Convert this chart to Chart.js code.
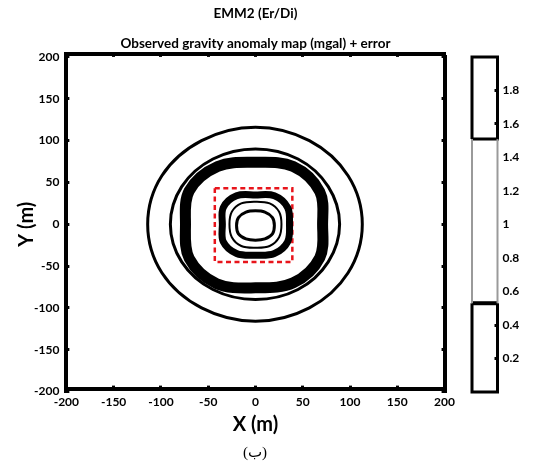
<!DOCTYPE html>
<html>
<head>
<meta charset="utf-8">
<title>EMM2 (Er/Di)</title>
<script src="https://cdn.jsdelivr.net/npm/chart.js@4.4.1/dist/chart.umd.min.js"></script>
<style>
  body { margin: 0; background: #fff; }
  #wrap { position: relative; width: 536px; height: 470px; }
  #mapChart { position: absolute; left: 0; top: 0; }
  #barChart { position: absolute; left: 460px; top: 0; }
  #caption { position: absolute; left: 205px; width: 100px; top: 443px; text-align: center;
             font: 15px "Liberation Serif", "DejaVu Sans", serif; color: #000; }
</style>
</head>
<body>
<div id="wrap">
  <canvas id="mapChart" width="464" height="470"></canvas>
  <canvas id="barChart" width="76" height="470"></canvas>
  <div id="caption">(ب)</div>
</div>
<script>
"use strict";

// Axis ranges (m) and colour bar range (mgal)
const xRange = [-200, 200];
const yRange = [-200, 200];
const cbRange = [0, 2];
const cbBreaks = [0.53, 1.51];           // where the colour bar frame changes
const cbLabelled = [0.2, 0.4, 1.6, 1.8]; // ticks with a visible mark

// Contour lines, [x, y] in metres
const outerRing = [[113,0],[98,58],[57,100],[0,116],[-57,100],[-99,58],[-114,0],[-99,-58],[-57,-100],[0,-116],[57,-100],[98,-58]];
const secondRing = [[89,0],[77,45],[45,78],[0,90],[-45,78],[-78,45],[-90,0],[-78,-45],[-45,-78],[0,-90],[45,-78],[77,-45]];
const thickBand = [[71,0],[68,39],[40,69],[0,74],[-40,69],[-70,40],[-74,0],[-70,-41],[-41,-71],[0,-76],[40,-70],[68,-40]];
const innerBand = [[36,0],[34,20],[20,34],[0,35],[-20,34],[-34,20],[-35,0],[-34,-21],[-20,-35],[0,-37],[20,-35],[34,-21]];
const thinRing = [[27.5,0],[25,15],[15,25],[0,27],[-15,25],[-25,15],[-27.5,0],[-25,-15.5],[-15,-26],[0,-28],[15,-26],[25,-15.5]];
const coreRing = [[20,-1.5],[18,8],[10,14.5],[0,16],[-10,14.5],[-18,8],[-20,-1.5],[-18,-11.5],[-10,-17.5],[0,-19],[10,-17.5],[18,-11.5]];
// Source body outline (red dashed box)
const bodyBox = [[-43,43],[39,43],[39,-45],[-43,-45]];

const FONT = "Lato, 'Open Sans', sans-serif";

// A closed curve: one extra point on each end so the spline is smooth
// all the way round; those two end pieces are left transparent.
function contour(pts, width) {
  const n = pts.length;
  const ring = [pts[n - 1]].concat(pts, [pts[0], pts[1]]).map(p => ({ x: p[0], y: p[1] }));
  const last = ring.length - 1;
  return {
    data: ring,
    showLine: true,
    borderColor: "#000",
    borderWidth: width,
    pointRadius: 0,
    tension: 0.35,
    clip: false,
    segment: {
      borderColor: ctx => (ctx.p0DataIndex === 0 || ctx.p1DataIndex === last) ? "rgba(0,0,0,0)" : "#000"
    }
  };
}

function frameAxis(position, range, showLabels) {
  return {
    type: "linear",
    position: position,
    min: range[0],
    max: range[1],
    ticks: {
      display: showLabels,
      stepSize: 50,
      color: "#000",
      padding: 10,
      font: { family: FONT, size: 12, weight: "bold" }
    },
    grid: { drawOnChartArea: false, tickLength: -3, tickWidth: 3, color: "#000" },
    border: { color: "#000", width: 4 }
  };
}

const xAxis = frameAxis("bottom", xRange, true);
xAxis.ticks.padding = 9;
xAxis.title = { display: true, text: "X (m)", color: "#000", padding: { top: -1, bottom: 0 },
                font: { family: FONT, size: 20, weight: "bold", lineHeight: 0.8 } };
const yAxis = frameAxis("left", yRange, true);
yAxis.title = { display: true, text: "Y (m)", color: "#000", padding: { top: 11, bottom: -11 },
                font: { family: FONT, size: 20, weight: "bold", lineHeight: 0.8 } };

new Chart(document.getElementById("mapChart"), {
  type: "scatter",
  data: {
    datasets: [
      contour(outerRing, 3),
      contour(secondRing, 3),
      contour(thickBand, 11),
      contour(innerBand, 7),
      contour(thinRing, 2),
      contour(coreRing, 3),
      {
        data: bodyBox.concat([bodyBox[0]]).map(p => ({ x: p[0], y: p[1] })),
        showLine: true,
        borderColor: "#e8141b",
        borderWidth: 2.5,
        borderDash: [5, 3.5],
        pointRadius: 0,
        tension: 0,
        clip: false
      }
    ]
  },
  options: {
    responsive: false,
    animation: false,
    layout: { padding: { left: 8, right: 2, top: 2, bottom: 34 } },
    plugins: {
      legend: { display: false },
      tooltip: { enabled: false },
      title: {
        display: true,
        text: "EMM2 (Er/Di)",
        fullSize: false,
        color: "#000",
        font: { family: FONT, size: 13.5, weight: "bold" },
        padding: { top: 4, bottom: 13.5 }
      },
      subtitle: {
        display: true,
        text: "Observed gravity anomaly map (mgal) + error",
        fullSize: false,
        color: "#000",
        font: { family: FONT, size: 13.5, weight: "bold" },
        padding: { top: 0, bottom: 5 }
      }
    },
    scales: {
      x: xAxis,
      x2: frameAxis("top", xRange, false),
      y: yAxis,
      y2: frameAxis("right", yRange, false)
    }
  }
});

// Colour bar frame, drawn as line pieces on its own value axis
function framePiece(pts, color, width) {
  return {
    data: pts.map(p => ({ x: p[0], y: p[1] })),
    showLine: true,
    borderColor: color,
    borderWidth: width,
    pointRadius: 0,
    tension: 0,
    clip: false
  };
}

const lo = cbBreaks[0], hi = cbBreaks[1];
new Chart(document.getElementById("barChart"), {
  type: "scatter",
  data: {
    datasets: [
      framePiece([[0, lo], [0, hi]], "#9a9a9a", 2),
      framePiece([[1, lo], [1, hi]], "#9a9a9a", 2),
      framePiece([[0, hi], [0, cbRange[1]], [1, cbRange[1]], [1, hi], [0, hi]], "#000", 3),
      framePiece([[0, lo], [0, cbRange[0]], [1, cbRange[0]], [1, lo]], "#000", 3),
      framePiece([[0, lo], [1, lo]], "#000", 4)
    ]
  },
  options: {
    responsive: false,
    animation: false,
    layout: { padding: { left: 12, right: 13, top: 57, bottom: 78 } },
    plugins: { legend: { display: false }, tooltip: { enabled: false } },
    scales: {
      x: { type: "linear", min: 0, max: 1, display: false },
      y: {
        type: "linear",
        position: "right",
        min: cbRange[0],
        max: cbRange[1],
        ticks: {
          stepSize: 0.2,
          color: "#000",
          padding: 8,
          font: { family: FONT, size: 12, weight: "bold" },
          callback: v => (v <= cbRange[0] || v >= cbRange[1]) ? "" : Math.round(v * 10) / 10
        },
        grid: {
          drawOnChartArea: false,
          tickLength: -3,
          tickWidth: 3,
          color: c => cbLabelled.some(t => Math.abs(t - c.tick.value) < 1e-6) ? "#000" : "rgba(0,0,0,0)"
        },
        border: { display: false }
      }
    }
  }
});
</script>
</body>
</html>
